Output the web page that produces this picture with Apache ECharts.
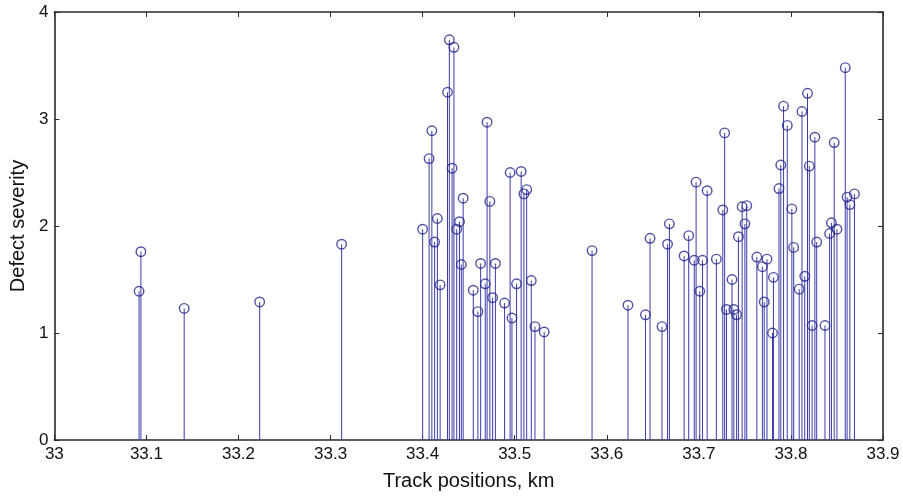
<!DOCTYPE html>
<html>
<head>
<meta charset="utf-8">
<script src="https://cdn.jsdelivr.net/npm/echarts@6/dist/echarts.min.js"></script>
<style>html,body{margin:0;padding:0;background:#fff}#c{width:903px;height:496px}</style>
</head>
<body>
<div id="c"></div>
<script>
const positions = [
  33.092, 33.094, 33.141, 33.223, 33.312,
  33.400, 33.407, 33.410, 33.413, 33.416, 33.419, 33.427, 33.429, 33.432, 33.434,
  33.437, 33.440, 33.442, 33.444, 33.455, 33.460, 33.463, 33.468, 33.470, 33.473,
  33.476, 33.479, 33.489, 33.495, 33.497, 33.502, 33.507, 33.510, 33.513, 33.518,
  33.522, 33.532, 33.584,
  33.623, 33.642, 33.647, 33.660, 33.666, 33.668, 33.684, 33.689, 33.695, 33.697,
  33.701, 33.704, 33.709, 33.719, 33.726, 33.728, 33.730, 33.736, 33.738, 33.741,
  33.743, 33.747, 33.750, 33.752, 33.763, 33.769, 33.771, 33.774, 33.780, 33.781,
  33.787, 33.789, 33.792, 33.796, 33.801, 33.803, 33.809, 33.812, 33.815, 33.818,
  33.820, 33.823, 33.826, 33.828, 33.837, 33.842, 33.844, 33.847, 33.850, 33.859,
  33.861, 33.864, 33.869
];
const severity = [
  1.39, 1.76, 1.23, 1.29, 1.83,
  1.97, 2.63, 2.89, 1.85, 2.07, 1.45, 3.25, 3.74, 2.54, 3.67,
  1.97, 2.04, 1.64, 2.26, 1.40, 1.20, 1.65, 1.46, 2.97, 2.23,
  1.33, 1.65, 1.28, 2.50, 1.14, 1.46, 2.51, 2.30, 2.34, 1.49,
  1.06, 1.01, 1.77,
  1.26, 1.17, 1.885, 1.06, 1.83, 2.02, 1.72, 1.91, 1.68, 2.41,
  1.39, 1.68, 2.33, 1.69, 2.15, 2.87, 1.22, 1.50, 1.22, 1.17,
  1.90, 2.18, 2.02, 2.19, 1.71, 1.62, 1.29, 1.69, 1.00, 1.52,
  2.35, 2.57, 3.12, 2.94, 2.16, 1.80, 1.41, 3.07, 1.53, 3.24,
  2.56, 1.07, 2.83, 1.85, 1.07, 1.93, 2.03, 2.78, 1.97, 3.48,
  2.27, 2.20, 2.30
];
const xTicks = [33, 33.1, 33.2, 33.3, 33.4, 33.5, 33.6, 33.7, 33.8, 33.9];
const yTicks = [0, 1, 2, 3, 4];

const data = positions.map((p, i) => [p, severity[i]]);
const FONT = 'Liberation Sans, Arial, sans-serif';
const stemColor = '#3c3ca8';
const markColor = '#24248f';

const chart = echarts.init(document.getElementById('c'), null, {renderer: 'canvas'});
const axisCommon = {
  axisLine: {show: true, onZero: false, lineStyle: {color: '#2a2a2a', width: 1.6}},
  axisTick: {show: true, inside: true, length: 5, lineStyle: {color: '#2a2a2a', width: 1}},
  splitLine: {show: false}
};
chart.setOption({
  animation: false,
  backgroundColor: '#fff',
  grid: {left: 53, right: 20, top: 12, bottom: 53, containLabel: false},
  xAxis: [
    Object.assign({}, axisCommon, {
      type: 'value', min: xTicks[0], max: xTicks[xTicks.length - 1], interval: 0.1,
      name: 'Track positions, km', nameLocation: 'middle', nameGap: 31,
      nameTextStyle: {fontFamily: FONT, fontSize: 20, color: '#111'},
      axisLabel: {fontFamily: FONT, fontSize: 17, color: '#111', margin: 6,
        formatter: v => String(Math.round(v * 10) / 10)}
    }),
    Object.assign({}, axisCommon, {
      type: 'value', position: 'top', min: xTicks[0], max: xTicks[xTicks.length - 1], interval: 0.1,
      axisLabel: {show: false}
    })
  ],
  yAxis: [
    Object.assign({}, axisCommon, {
      type: 'value', min: yTicks[0], max: yTicks[yTicks.length - 1], interval: 1,
      name: 'Defect severity', nameLocation: 'middle', nameGap: 26, nameRotate: 90,
      nameTextStyle: {fontFamily: FONT, fontSize: 20, color: '#111'},
      axisLabel: {fontFamily: FONT, fontSize: 17, color: '#111', margin: 6}
    }),
    Object.assign({}, axisCommon, {
      type: 'value', position: 'right', min: yTicks[0], max: yTicks[yTicks.length - 1], interval: 1,
      axisLabel: {show: false}
    })
  ],
  series: [
    {
      type: 'custom',
      data: data,
      clip: true,
      renderItem: function (params, api) {
        const top = api.coord([api.value(0), api.value(1)]);
        const base = api.coord([api.value(0), 0]);
        return {
          type: 'line',
          shape: {x1: top[0], y1: top[1], x2: base[0], y2: base[1]},
          style: {stroke: stemColor, lineWidth: 1}
        };
      },
      z: 2
    },
    {
      type: 'scatter',
      data: data,
      symbol: 'circle',
      symbolSize: 9.5,
      itemStyle: {color: 'rgba(0,0,0,0)', borderColor: markColor, borderWidth: 1.4},
      z: 3
    }
  ]
});
</script>
</body>
</html>
